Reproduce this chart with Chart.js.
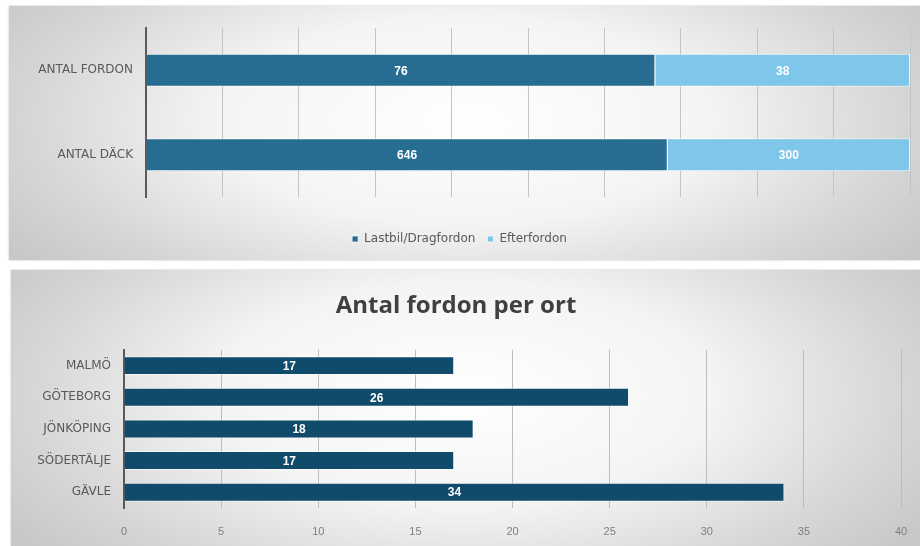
<!DOCTYPE html>
<html>
<head>
<meta charset="utf-8">
<script src="https://cdn.jsdelivr.net/npm/chart.js@4"></script>
<style>
    body { margin: 0; background: #fff; width: 920px; height: 546px; position: relative; overflow: hidden; }
    .panel {
        position: absolute;
        background: radial-gradient(ellipse 60% 90% at 50% 45%, #ffffff 0%, #f4f4f4 45%, #d6d6d6 80%, #c8c8c8 100%);
        box-shadow: 0 0 2px rgba(0,0,0,0.25);
    }
    #top { left: 9px; top: 6px; width: 911px; height: 254px; }
    #bottom { left: 11px; top: 270px; width: 909px; height: 276px; }
</style>
</head>
<body>
<div class="panel" id="top"><canvas id="chartTop"></canvas></div>
<div class="panel" id="bottom"><canvas id="chartBottom"></canvas></div>
<script>
// data
const rowLabels = ['ANTAL FORDON', 'ANTAL DÄCK'];
const lastbil = [76, 646];
const efterfordon = [38, 300];

const orter = ['MALMÖ', 'GÖTEBORG', 'JÖNKÖPING', 'SÖDERTÄLJE', 'GÄVLE'];
const fordonPerOrt = [17, 26, 18, 17, 34];
const ortTicks = [0, 5, 10, 15, 20, 25, 30, 35, 40];

const darkBlue = '#276c91';
const lightBlue = '#7fc7ea';
const navy = '#104b6c';
const labelFont = '"DejaVu Sans", sans-serif';

// värden i mitten av staplarna
const valueLabels = {
    id: 'valueLabels',
    afterDatasetsDraw(chart) {
        const ctx = chart.ctx;
        ctx.save();
        ctx.fillStyle = '#ffffff';
        ctx.font = 'bold 12px "Liberation Sans", Arial, sans-serif';
        ctx.textAlign = 'center';
        ctx.textBaseline = 'middle';
        chart.data.datasets.forEach((ds, i) => {
            chart.getDatasetMeta(i).data.forEach((bar, j) => {
                const raw = ds.raw ? ds.raw[j] : ds.data[j];
                ctx.fillText(raw, (bar.x + bar.base) / 2, bar.y + 1);
            });
        });
        ctx.restore();
    }
};

const pct = (a, b) => a.map((v, i) => v / (v + b[i]) * 100);

const topChart = () => {
    const ctx = document.getElementById('chartTop');
    new Chart(ctx, {
        type: 'bar',
        data: {
            labels: rowLabels,
            datasets: [
                { label: 'Lastbil/Dragfordon', data: pct(lastbil, efterfordon), raw: lastbil,
                  backgroundColor: darkBlue, borderColor: 'rgba(255,255,255,0.7)', borderWidth: 1 },
                { label: 'Efterfordon', data: pct(efterfordon, lastbil), raw: efterfordon,
                  backgroundColor: lightBlue, borderColor: 'rgba(255,255,255,0.7)', borderWidth: 1 }
            ]
        },
        options: {
            indexAxis: 'y',
            responsive: true,
            maintainAspectRatio: false,
            animation: false,
            layout: { padding: { top: 22, right: 10, bottom: 5, left: 0 } },
            datasets: { bar: { categoryPercentage: 1, barPercentage: 0.39 } },
            scales: {
                x: {
                    stacked: true,
                    min: 0, max: 100,
                    ticks: { display: false, stepSize: 10 },
                    grid: { color: '#c4c4c4', drawTicks: false },
                    border: { display: false },
                    afterFit: (s) => { s.height = 24; }
                },
                y: {
                    stacked: true,
                    ticks: { color: '#595959', padding: 13, font: { size: 12, family: labelFont } },
                    grid: { display: false, drawTicks: false },
                    border: { color: '#5a5a5a', width: 2 },
                    afterFit: (s) => { s.width = 137; }
                }
            },
            plugins: {
                legend: {
                    position: 'bottom',
                    labels: {
                        color: '#595959',
                        usePointStyle: true, pointStyle: 'rect', boxWidth: 6, boxHeight: 6,
                        padding: 12,
                        font: { size: 12, family: labelFont }
                    }
                },
                tooltip: { enabled: false }
            }
        },
        plugins: [valueLabels]
    });
}

const bottomChart = () => {
    const ctx = document.getElementById('chartBottom');
    new Chart(ctx, {
        type: 'bar',
        data: {
            labels: orter,
            datasets: [{ label: 'Antal fordon', data: fordonPerOrt, backgroundColor: navy,
                         borderColor: 'rgba(255,255,255,0.6)', borderWidth: 1 }]
        },
        options: {
            indexAxis: 'y',
            responsive: true,
            maintainAspectRatio: false,
            animation: false,
            layout: { padding: { top: 0, right: 19, bottom: 8, left: 0 } },
            datasets: { bar: { categoryPercentage: 1, barPercentage: 0.6 } },
            scales: {
                x: {
                    min: ortTicks[0], max: ortTicks[ortTicks.length - 1],
                    afterBuildTicks: (s) => { s.ticks = ortTicks.map(v => ({ value: v })); },
                    ticks: { color: '#7f7f7f', padding: 17, font: { size: 11, family: '"Liberation Sans", Arial, sans-serif' } },
                    grid: { color: '#bdbdbd', drawTicks: false },
                    border: { display: false },
                    afterFit: (s) => { s.height = 30; s.paddingRight = 0; s.paddingLeft = 0; }
                },
                y: {
                    ticks: { color: '#595959', padding: 13, font: { size: 12, family: labelFont } },
                    grid: { display: false, drawTicks: false },
                    border: { color: '#5a5a5a', width: 2 },
                    afterFit: (s) => { s.width = 113; }
                }
            },
            plugins: {
                title: {
                    display: true,
                    text: 'Antal fordon per ort',
                    color: '#404040',
                    font: { size: 24, weight: 'bold', family: '"Open Sans", sans-serif' },
                    padding: { top: 22, bottom: 29 }
                },
                legend: { display: false },
                tooltip: { enabled: false }
            }
        },
        plugins: [valueLabels]
    });
}

topChart();
bottomChart();
</script>
</body>
</html>
